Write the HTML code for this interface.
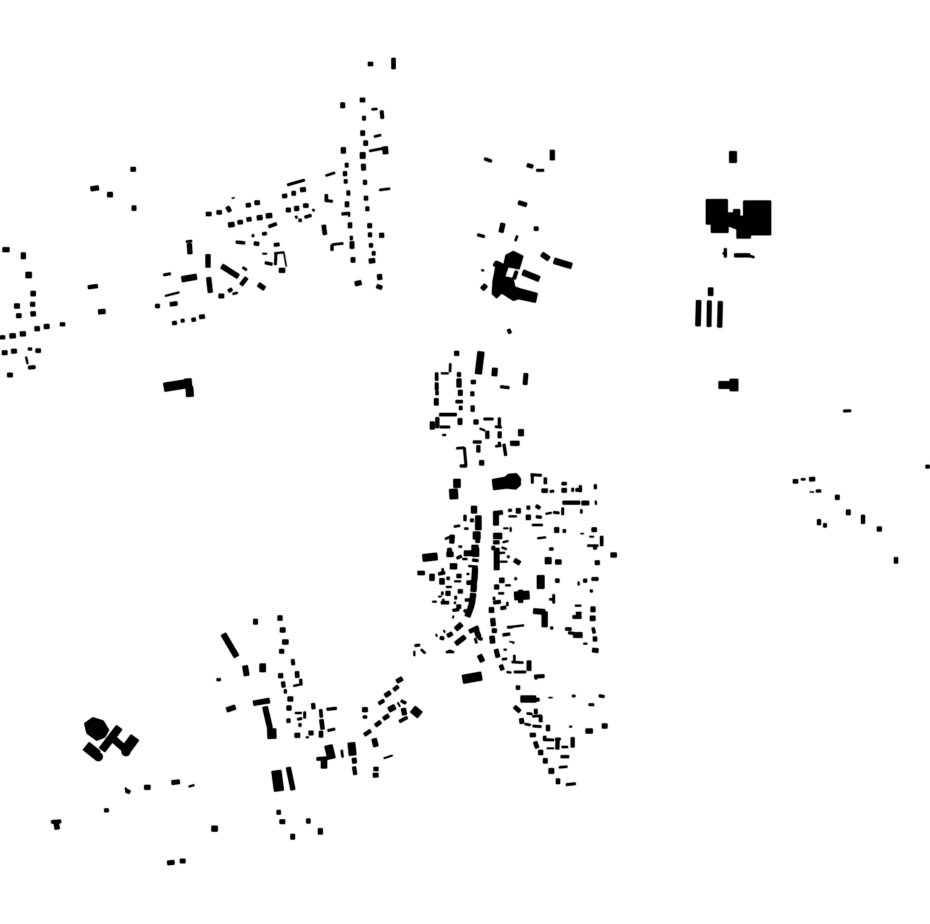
<!DOCTYPE html>
<html><head><meta charset="utf-8"><title>Map</title>
<style>html,body{margin:0;padding:0;background:#fff}svg{display:block}path{fill:none;stroke:#000}polygon,circle{fill:#000;stroke:none}</style></head>
<body>
<svg width="930" height="924" viewBox="0 0 930 924" xmlns="http://www.w3.org/2000/svg">
<defs><filter id="f" filterUnits="userSpaceOnUse" x="0" y="0" width="930" height="924" color-interpolation-filters="sRGB"><feGaussianBlur stdDeviation="0.45"/><feComponentTransfer><feFuncA type="linear" slope="1.7" intercept="0"/></feComponentTransfer></filter></defs>
<g filter="url(#f)">
<path stroke-width="4" d="M368 64H373"/><path stroke-width="4" d="M393.5 58V69"/>
<g transform="translate(410,340) scale(.33333)">
<path stroke-width="14" d="M133 40H147"/><path stroke-width="20" d="M213 35L205 102"/><path stroke-width="16" d="M255 84L253 108"/><path stroke-width="13" d="M348 100L345 134"/><path stroke-width="8" d="M271 140L298 143"/><path stroke-width="12" d="M183 126H197"/><path stroke-width="11" d="M147 97V110"/><path stroke-width="14" d="M147 116V142"/><path stroke-width="13" d="M151 150V167"/><path stroke-width="9" d="M137 185H158"/><path stroke-width="10" d="M152 198V210"/><path stroke-width="11" d="M188 197V215M187 155V168"/><path stroke-width="9" d="M80 98V122M81 152V165"/><path stroke-width="10" d="M80 128V150"/><path stroke-width="13" d="M79 175V196"/><path stroke-width="5" d="M93 100H116"/><path stroke-width="6" d="M121 70L120 96"/><path stroke-width="9" d="M88 224H140"/><path stroke-width="11" d="M82 232V264"/><path stroke-width="7" d="M90 261H120"/><path stroke-width="14" d="M67 245V268"/><path stroke-width="5" d="M97 285H108"/><path stroke-width="13" d="M150 235V254"/><path stroke-width="14" d="M191 246H205"/><path stroke-width="7" d="M221 237H250"/><path stroke-width="8" d="M268 233V262"/><path stroke-width="6" d="M255 260L275 262"/><path stroke-width="5" d="M209 265L225 272"/><path stroke-width="11" d="M232 273V296M269 275V294"/><path stroke-width="16" d="M333 268V288"/><path stroke-width="14" d="M301 310H328"/><path stroke-width="8" d="M189 306H214"/><path stroke-width="11" d="M205 316V337"/><path stroke-width="6" d="M256 319L274 317"/><path stroke-width="8" d="M264 310H272M282 312L287 347"/>
<path stroke-width="6" d="M139 325L163 323"/><path stroke-width="7" d="M163 323L168 378"/><path stroke-width="8" d="M150 378H170"/><path stroke-width="14" d="M215 361V376"/><path stroke-width="21" d="M141 417V443"/><path stroke-width="25" d="M130 447L132 477"/>
<polygon points="246,418 285,411 295,402 320,400 332,415 332,435 318,448 290,445 250,450"/>
<path stroke-width="7" d="M362 404L395 406M367 405V430"/><path stroke-width="9" d="M406 413V432"/><path stroke-width="12" d="M395 452H413"/><path stroke-width="7" d="M420 455L432 453M488 444V455"/><path stroke-width="9" d="M455 431H470"/><path stroke-width="13" d="M455 451H470"/><path stroke-width="10" d="M497 450L515 449"/><path stroke-width="8" d="M511 436V456M556 433V447"/><path stroke-width="11" d="M458 488H510"/><path stroke-width="13" d="M515 489H537"/><path stroke-width="5" d="M557 482L558 494"/>
<path stroke-width="17" d="M192 498V520"/><path stroke-width="8" d="M165 525V543"/><path stroke-width="10" d="M181 541H191"/><path stroke-width="18" d="M205 527V570"/><path stroke-width="6" d="M132 560L150 557M163 566H175M146 620H156"/><path stroke-width="22" d="M200 575V598"/><path stroke-width="13" d="M203 600V608"/><path stroke-width="6" d="M105 597L122 590"/><path stroke-width="14" d="M127 585L125 610"/><path stroke-width="20" d="M195 615V632"/><path stroke-width="15" d="M112 632H125"/>
<path stroke-width="12" d="M250 520L278 517"/><path stroke-width="16" d="M258 520V556"/><path stroke-width="8" d="M295 512L305 510"/><path stroke-width="5" d="M296 529H320"/><path stroke-width="14" d="M325 505V520"/><path stroke-width="11" d="M350 503H360"/><path stroke-width="15" d="M348 532H362"/><path stroke-width="10" d="M378 497L390 505"/><path stroke-width="8" d="M378 530L395 532"/><path stroke-width="5" d="M407 522L425 518"/><path stroke-width="7" d="M430 517L448 519M458 503V525"/><path stroke-width="6" d="M514 508V520M366 555H398"/><path stroke-width="4" d="M280 565H295"/><path stroke-width="5" d="M302 562V575"/><path stroke-width="14" d="M440 562V578"/><path stroke-width="9" d="M463 568V578"/><path stroke-width="13" d="M545 569H560"/><path stroke-width="3" d="M511 581H522"/><path stroke-width="4" d="M538 590H552"/><path stroke-width="9" d="M575 588V618"/><path stroke-width="6" d="M532 617H565"/><path stroke-width="8" d="M550 624H560M418 627H430"/><path stroke-width="5" d="M382 595L408 592M278 607L295 603"/><path stroke-width="18" d="M250 588H276"/><path stroke-width="11" d="M250 607H268"/><path stroke-width="10" d="M250 618V630"/><path stroke-width="5" d="M275 622L290 628"/>
</g>
<g transform="translate(410,550) scale(.33333)">
<path stroke-width="22" d="M38 24L82 19"/><path stroke-width="15" d="M110 13H130"/><path stroke-width="8" d="M140 25L155 18M187 30L205 32M187 56L203 58"/><path stroke-width="5" d="M157 27H172M175 48L203 50M170 72H178"/><path stroke-width="16" d="M162 10H187"/><path stroke-width="20" d="M197 -6V20"/>
<path stroke-width="17" d="M195 60L193 92M192 105L190 125M190 130L185 165"/><path stroke-width="12" d="M170 98H200"/><path stroke-width="17" d="M185 165L172 200"/><path stroke-width="8" d="M165 150H182M162 180L172 188"/>
<path stroke-width="17" d="M120 49H141"/><path stroke-width="12" d="M23 69H44"/><path stroke-width="15" d="M66 72V92"/><path stroke-width="9" d="M85 72L105 68"/><path stroke-width="6" d="M98 55V70"/><path stroke-width="9" d="M110 85H119"/><path stroke-width="12" d="M140 78H154"/><path stroke-width="5" d="M133 94H153"/><path stroke-width="15" d="M96 85V103"/><path stroke-width="5" d="M108 111H125"/><path stroke-width="14" d="M107 130H121"/><path stroke-width="12" d="M144 124H158"/><path stroke-width="6" d="M97 125V135M97 150H103"/><path stroke-width="4" d="M85 140L95 139"/><path stroke-width="5" d="M67 155H80M135 155V162"/><path stroke-width="9" d="M93 158H117"/><path stroke-width="7" d="M137 138V148"/><path stroke-width="8" d="M128 181L147 179"/><path stroke-width="12" d="M140 170H153"/><path stroke-width="4" d="M128 205L131 197M78 252L81 260M101 240L105 248"/>
<path stroke-width="15" d="M137 238L155 222"/><path stroke-width="10" d="M90 263L102 266"/><path stroke-width="12" d="M112 258L127 250M178 245L205 232"/><path stroke-width="14" d="M137 282L165 260"/><path stroke-width="15" d="M197 235L207 262"/><path stroke-width="6" d="M195 265L200 280"/><path stroke-width="8" d="M205 265L217 268"/>
<path stroke-width="16" d="M237 180H252"/><path stroke-width="14" d="M248 205L250 228"/><path stroke-width="13" d="M246 242H260"/><path stroke-width="15" d="M246 258L248 280"/><path stroke-width="13" d="M258 298L264 322"/><path stroke-width="5" d="M281 299H290M290 366L304 368"/><path stroke-width="6" d="M276 328L291 326M313 315V335M305 336L340 338"/><path stroke-width="13" d="M357 332V362"/><path stroke-width="7" d="M312 366H348"/><path stroke-width="12" d="M272 345L278 360"/><path stroke-width="10" d="M373 380L403 378"/><path stroke-width="7" d="M378 375V388"/><path stroke-width="15" d="M208 315L218 335"/><path stroke-width="26" d="M158 388L215 378"/><path stroke-width="7" d="M14 287L30 285"/><path stroke-width="5" d="M13 303V318"/><path stroke-width="6" d="M33 298L46 310M108 306H132"/><path stroke-width="4" d="M115 302H125"/>
<path stroke-width="12" d="M318 413H330M313 470L330 485"/><path stroke-width="20" d="M332 447H378"/><path stroke-width="10" d="M365 452L388 448"/><path stroke-width="3" d="M415 443H428"/><path stroke-width="7" d="M486 438H496M536 464H552"/><path stroke-width="8" d="M567 437L583 440"/><path stroke-width="6" d="M350 490L367 492M367 499L395 497M344 522L362 525"/><path stroke-width="10" d="M377 477L378 492M392 497V516"/><path stroke-width="13" d="M334 505L336 521"/><path stroke-width="7" d="M368 528L394 530"/><path stroke-width="11" d="M414 525V543"/><path stroke-width="5" d="M478 530H486"/><path stroke-width="14" d="M527 543H548M576 528H592"/><path stroke-width="12" d="M360 555H377"/><path stroke-width="9" d="M404 558V568"/><path stroke-width="7" d="M400 569L432 570M436 567H452"/><path stroke-width="11" d="M443 567L442 598M488 562V592"/><path stroke-width="4" d="M410 595H432"/><path stroke-width="6" d="M455 591H474M447 652L472 650"/><path stroke-width="12" d="M375 575L382 594M444 686V702"/><path stroke-width="14" d="M392 600V615"/><path stroke-width="13" d="M406 625V640"/><path stroke-width="16" d="M424 655V671"/><path stroke-width="7" d="M468 704L497 701"/><path stroke-width="8" d="M452 620H477"/>
<path stroke-width="16" d="M260 -6V60"/><path stroke-width="5" d="M252 10L285 8M270 35H292"/><path stroke-width="7" d="M295 17V24M317 82V90"/><path stroke-width="13" d="M313 30L330 40"/><path stroke-width="20" d="M405 32H424"/><path stroke-width="14" d="M436 36H454"/><path stroke-width="13" d="M555 38H569"/><path stroke-width="14" d="M602 15H620"/><path stroke-width="22" d="M392 76V116"/><path stroke-width="12" d="M436 92H448"/><path stroke-width="5" d="M506 95V106"/><path stroke-width="11" d="M520 92H531"/><path stroke-width="10" d="M545 87H565"/><path stroke-width="8" d="M540 123H548"/><path stroke-width="15" d="M268 91H283"/><path stroke-width="14" d="M253 111H267"/><path stroke-width="5" d="M286 106H302"/><path stroke-width="6" d="M265 130H282"/><path stroke-width="7" d="M252 141V150"/><path stroke-width="10" d="M250 158L272 155M272 175L288 172"/><path stroke-width="6" d="M292 156V168"/>
<path stroke-width="25" d="M313 138L358 135"/><path stroke-width="14" d="M332 120V158"/><path stroke-width="7" d="M431 133V160"/><path stroke-width="6" d="M418 148H428"/><path stroke-width="16" d="M370 183L405 186"/><path stroke-width="17" d="M404 185V231"/><path stroke-width="8" d="M421 234H429"/><path stroke-width="5" d="M495 167H514M520 281H532"/><path stroke-width="8" d="M498 190H514"/><path stroke-width="10" d="M488 201H514"/><path stroke-width="14" d="M549 170V186"/><path stroke-width="15" d="M540 205H556"/><path stroke-width="9" d="M549 233L553 250M466 237H484"/><path stroke-width="12" d="M555 260V274"/><path stroke-width="13" d="M547 300L565 302"/><path stroke-width="8" d="M475 248L490 250"/><path stroke-width="16" d="M490 255H517"/>
<path stroke-width="5" d="M292 232L342 226"/><path stroke-width="7" d="M292 232L308 231"/><path stroke-width="8" d="M278 255L300 252"/><path stroke-width="3" d="M298 275L313 277M310 277V282"/>
</g>
<g transform="translate(150,90) scale(.33333)">
<path stroke-width="13" d="M578 38V54M630 30H645M638 122V137M647 152V167M640 222L641 241M659 400V414M609 502V517M606 454V476"/><path stroke-width="6" d="M665 58L682 57M672 140L693 135M658 183L700 175M688 300L720 296"/><path stroke-width="10" d="M695 62L697 86M642 78V91M590 219V232M587 268V280M595 302V316"/><path stroke-width="16" d="M638 187V206M705 170L707 192"/><path stroke-width="11" d="M645 270V284M585 244V258M652 350V363M660 428V441M663 460V472"/><path stroke-width="14" d="M580 172V190M657 514L675 511M688 436H702M688 553L690 569M615 582L634 577"/><path stroke-width="12" d="M591 335V351M600 398V414M648 318V331M680 588L696 594"/><path stroke-width="8" d="M575 372L600 370M604 438V450"/><path stroke-width="5" d="M597 372V380"/><path stroke-width="10" d="M671 484V496"/>
<path stroke-width="6" d="M527 257L555 248"/><path stroke-width="9" d="M529 313V335"/><path stroke-width="7" d="M529 332L548 334"/><path stroke-width="12" d="M521 405L525 434"/><path stroke-width="6" d="M546 464L580 460"/><path stroke-width="8" d="M546 464V482"/><path stroke-width="7" d="M412 285L464 270"/><path stroke-width="12" d="M397 319L411 317M460 347H475M168 372H184"/><path stroke-width="13" d="M425 310H437M451 300L467 298M408 360H422"/><path stroke-width="14" d="M433 356L447 355"/><path stroke-width="6" d="M488 358L493 363M437 378L441 385"/><path stroke-width="9" d="M446 391H455"/><path stroke-width="8" d="M464 382L484 376"/>
<path stroke-width="12" d="M200 367H215M232 350L240 365M288 346L302 345M263 397L278 396M290 389L304 387"/><path stroke-width="3" d="M245 325L254 323"/><path stroke-width="13" d="M314 338H329"/><path stroke-width="14" d="M235 405L253 403M321 384L337 382M348 378L366 376"/><path stroke-width="9" d="M356 410L380 401M337 432L350 430"/><path stroke-width="8" d="M258 456L285 459"/><path stroke-width="7" d="M309 433V441"/><path stroke-width="11" d="M312 460L327 462"/><path stroke-width="10" d="M372 465L388 463"/><path stroke-width="4" d="M337 491H351"/><path stroke-width="8" d="M345 518L367 523"/><path stroke-width="5" d="M373 490L403 487"/><path stroke-width="7" d="M378 490L376 525"/><path stroke-width="3" d="M402 490L409 530"/><path stroke-width="14" d="M387 541H405"/>
<path stroke-width="6" d="M108 455L126 453"/><path stroke-width="14" d="M118 460L120 492M174 493V532M176 562L181 608M325 583L344 596"/><path stroke-width="17" d="M95 568L140 560"/><path stroke-width="7" d="M40 555L62 551M278 532L290 540"/><path stroke-width="15" d="M215 528L265 560"/><path stroke-width="12" d="M273 585L290 563M16 648H29M60 643L82 640"/><path stroke-width="13" d="M206 618H222"/><path stroke-width="10" d="M235 604L246 597"/><path stroke-width="6" d="M248 612L263 608"/><path stroke-width="5" d="M45 618L88 607"/><path stroke-width="11" d="M67 700L80 698M125 690L137 688"/><path stroke-width="10" d="M93 693L103 691"/><path stroke-width="12" d="M148 681L164 679"/>
</g>
<g transform="translate(0,160) scale(.33333)">
<path stroke-width="13" d="M392 28H407M402 137V152M49 467H64M91 433H105M6 578H22M34 574L50 573M22 645H38"/><path stroke-width="14" d="M272 87L296 83M8 269H28M70 278V297M43 438H59M92 462L107 461M104 506H119M132 500L148 499M29 528L47 527M60 522L77 521M295 456L316 454"/><path stroke-width="15" d="M322 104H338M92 401H107"/><path stroke-width="18" d="M77 345H95"/><path stroke-width="11" d="M180 493H195M0 532H15M264 382L293 378"/><path stroke-width="8" d="M84 567H96"/><path stroke-width="12" d="M107 572H122"/><path stroke-width="5" d="M78 590L83 612"/><path stroke-width="10" d="M85 623L106 621"/>
<path stroke-width="26" d="M492 682L555 672"/><path stroke-width="22" d="M563 656L565 680M568 680L570 710"/>
</g>
<g transform="translate(470,140) scale(.33333)">
<path stroke-width="8" d="M43 56L65 64M22 284L44 290"/><path stroke-width="11" d="M171 75L189 80"/><path stroke-width="7" d="M199 91H222"/><path stroke-width="14" d="M247 30V60M99 250L93 277M36 448L48 435"/><path stroke-width="12" d="M145 187L170 195M192 266H205"/><path stroke-width="6" d="M142 287L136 303"/><path stroke-width="10" d="M115 568L121 580"/><path stroke-width="15" d="M215 342L237 357M72 370L90 379"/><path stroke-width="18" d="M252 362L305 378"/>
<polygon points="107,345 130,333 160,348 148,388 100,378"/><polygon points="80,362 115,380 105,410 130,415 135,440 148,445 203,460 197,488 146,477 130,482 95,460 80,475 66,462 68,425"/><path stroke-width="10" d="M140 393L132 417"/><path stroke-width="17" d="M158 397L208 417"/><path stroke-width="5" d="M34 390L42 392"/>
<path stroke-width="22" d="M789 34V68"/>
<polygon points="708,178 773,178 773,218 790,218 790,208 810,208 810,228 820,228 820,182 903,182 903,285 842,285 842,295 800,295 800,268 775,258 775,278 723,278 723,253 708,253"/>
<path stroke-width="8" d="M766 325V352"/><path stroke-width="5" d="M758 340H764"/><path stroke-width="11" d="M793 346H840"/><path stroke-width="6" d="M840 348L853 352"/>
<path stroke-width="15" d="M722 443V467M686 481L684 558"/><path stroke-width="13" d="M718 482L717 560"/><path stroke-width="14" d="M751 484L749 562"/><path stroke-width="22" d="M746 735H780"/><path stroke-width="25" d="M792 717V753"/>
</g>
<g transform="translate(210,610) scale(.33333)">
<path stroke-width="16" d="M130 35H143M105 167L110 197"/><path stroke-width="17" d="M40 72L80 140"/><path stroke-width="15" d="M203 24H217"/><path stroke-width="14" d="M210 60H226M217 96H235M205 197H219M233 267H249M230 294H244M254 376H270M50 300L76 291"/><path stroke-width="13" d="M208 124H222"/><path stroke-width="10" d="M248 148L250 165"/><path stroke-width="12" d="M261 184L262 203"/><path stroke-width="11" d="M219 215L221 232M235 326L236 338M309 280L311 297"/><path stroke-width="8" d="M272 207L273 226M226 238V250M270 340V350"/><path stroke-width="5" d="M250 228L268 224M255 309H275M288 382H296"/><path stroke-width="7" d="M284 305V325M262 328L276 325"/><path stroke-width="13" d="M296 369H310"/>
<path stroke-width="9" d="M332 298L334 322"/><path stroke-width="8" d="M350 298L380 295"/><path stroke-width="12" d="M334 328L338 358M333 363V382"/><path stroke-width="7" d="M353 362L375 357"/><path stroke-width="18" d="M158 161V186"/><path stroke-width="8" d="M20 209H32"/><path stroke-width="15" d="M130 280L175 272"/><path stroke-width="12" d="M172 265L174 280"/><path stroke-width="16" d="M165 290L180 355"/><path stroke-width="26" d="M185 356L186 386"/>
<path stroke-width="24" d="M355 406L365 446M608 297L630 315"/><path stroke-width="10" d="M320 447L352 445"/><path stroke-width="18" d="M342 445V475"/><path stroke-width="6" d="M395 420L398 442"/><path stroke-width="22" d="M424 398L428 436"/><path stroke-width="13" d="M432 444L434 460"/><path stroke-width="11" d="M432 470L436 494"/><path stroke-width="29" d="M199 482L207 543"/><path stroke-width="14" d="M235 472L249 540"/>
<path stroke-width="15" d="M492 386L498 410"/><path stroke-width="11" d="M463 375L482 362M551 240L565 229"/><path stroke-width="12" d="M496 347L512 335M520 327L536 316"/><path stroke-width="16" d="M536 300L555 290M465 292V306"/><path stroke-width="10" d="M506 281L522 271"/><path stroke-width="13" d="M525 258L541 247M560 215L577 205"/><path stroke-width="8" d="M459 321H471M573 272L588 280"/><path stroke-width="4" d="M563 277L570 290M521 445L548 436"/><path stroke-width="14" d="M580 295L584 315"/><path stroke-width="9" d="M568 335L592 322"/><path stroke-width="12" d="M491 477H505"/><path stroke-width="13" d="M489 496L505 495M200 607H212M209 635H225M248 672V688"/><path stroke-width="14" d="M289 633H301M331 655V673"/><path stroke-width="17" d="M5 656H22"/>
</g>
<g transform="translate(40,700) scale(.33333)">
<polygon points="133,70 158,52 190,62 207,90 195,112 170,122 140,100"/><path stroke-width="22" d="M238 82L186 150"/><path stroke-width="20" d="M215 112L258 150"/><path stroke-width="30" d="M138 138L172 165M285 112L260 146"/><circle cx="175" cy="170" r="13"/><circle cx="258" cy="155" r="13"/>
<path stroke-width="11" d="M258 272L270 277M193 331H206"/><path stroke-width="5" d="M257 263L260 275M446 260L463 255"/><path stroke-width="14" d="M313 262H331"/><path stroke-width="13" d="M395 248L419 245M382 489L403 487M420 483H436"/><path stroke-width="10" d="M34 366L63 364"/><path stroke-width="15" d="M48 365L52 388"/><path stroke-width="16" d="M515 386H533"/>
</g>
<g transform="translate(780,400) scale(.33333)">
<path stroke-width="7" d="M190 33L213 32"/><path stroke-width="10" d="M437 200H449M135 370V382"/><path stroke-width="12" d="M39 244H54M88 238L105 237M348 472V490"/><path stroke-width="6" d="M63 238H76"/><path stroke-width="3" d="M89 276H102"/><path stroke-width="8" d="M108 273H123"/><path stroke-width="13" d="M172 285V299M205 329V345"/><path stroke-width="11" d="M249 345V371M117 358V375"/><path stroke-width="14" d="M298 380V394"/>
</g>
</g>
</svg>
</body></html>
